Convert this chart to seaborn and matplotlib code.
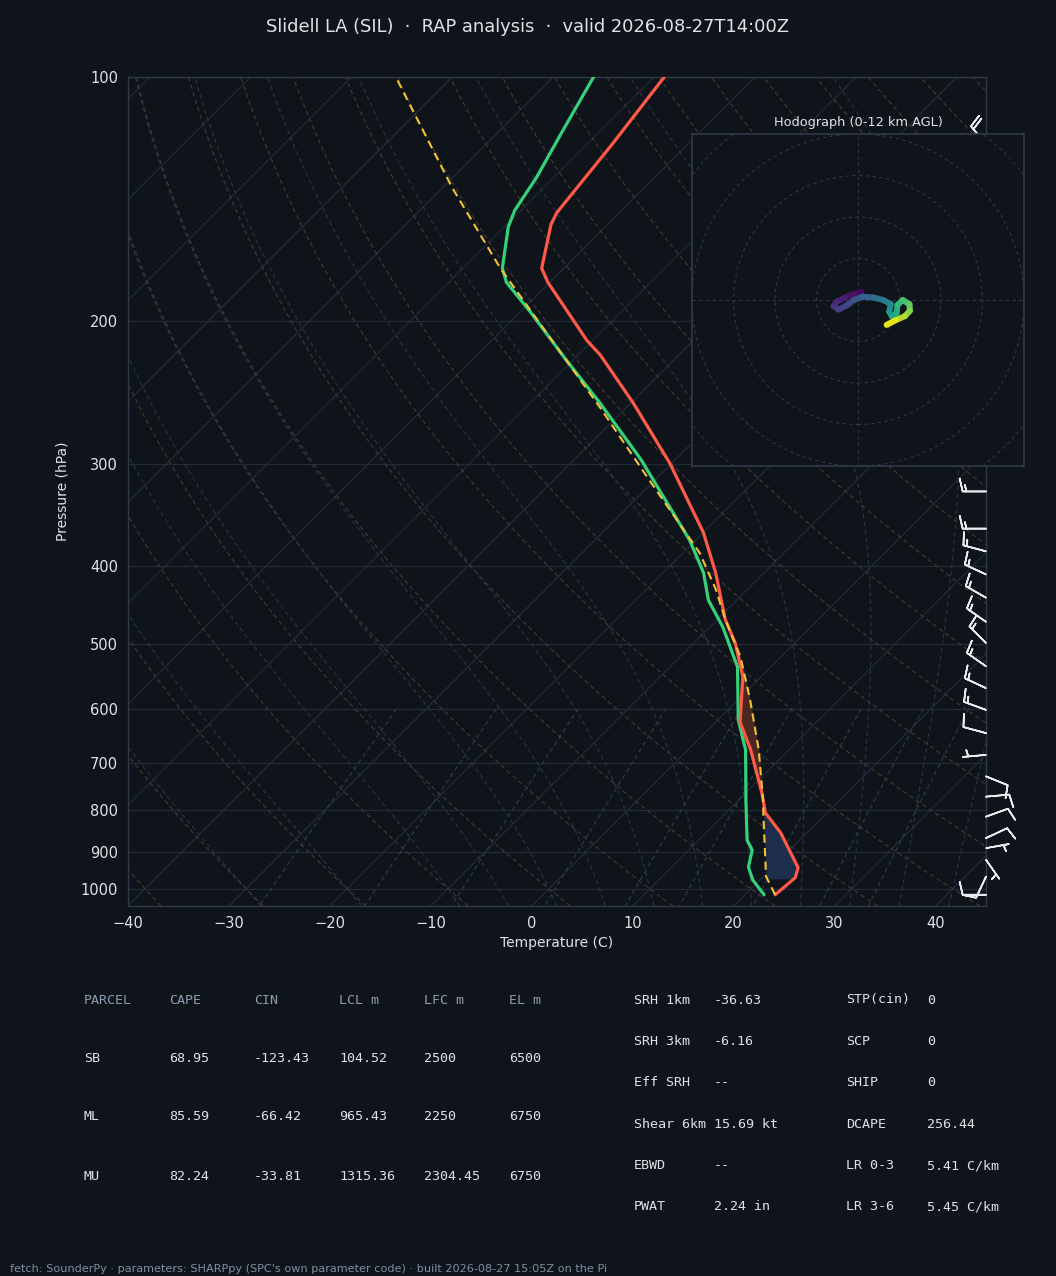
import numpy as np
import matplotlib
matplotlib.use("Agg")
import matplotlib.pyplot as plt
import matplotlib.transforms as mtransforms
from matplotlib.collections import LineCollection
from matplotlib.colors import Normalize
from matplotlib.patches import Circle
import seaborn as sns

# %% sounding values
pres_t = [1017, 969, 942, 853, 806, 762, 674, 623, 548, 498, 466, 408, 364, 299,
          252, 220, 211, 179, 172, 152, 147, 121, 100]
temp = [23.0, 23.3, 22.6, 17.4, 13.9, 11.6, 6.2, 2.4, -1.8, -5.9, -9.2, -14.8, -20.0, -30.2,
        -39.8, -47.8, -50.6, -60.2, -62.2, -65.6, -66.2, -67.5, -69.0]

pres_d = [1017, 975, 940, 896, 871, 777, 674, 619, 533, 476, 441, 408, 372, 296,
          252, 222, 195, 179, 172, 153, 146, 133, 116, 100]
dewp = [21.9, 19.3, 17.6, 16.3, 14.8, 10.7, 5.7, 2.0, -3.3, -8.7, -12.8, -16.0, -20.6, -33.4,
        -43.1, -51.0, -58.9, -64.3, -66.1, -69.6, -70.6, -71.7, -73.8, -76.0]

pres_pcl = [1017, 966, 806, 777, 674, 585, 518, 466, 428, 386, 314, 255, 172, 137, 100]
parcel = [23.0, 20.3, 13.7, 12.4, 7.0, 1.2, -4.0, -9.2, -13.1, -18.3, -30.5, -42.7, -66.3, -79.0, -95.6]

# wind barbs (direction deg, speed kt)
barb_p = [121, 324, 360, 384, 410, 438, 469, 498, 532, 566, 602, 643, 684,
          727, 770, 815, 866, 891, 921, 966, 1017]
barb_dir = [320, 270, 270, 285, 295, 300, 305, 315, 305, 295, 290, 285, 265,
            112, 85, 70, 65, 80, 145, 205, 270]
barb_spd = [20, 15, 15, 15, 15, 15, 15, 15, 15, 15, 15, 10, 5,
            10, 10, 10, 10, 5, 5, 10, 10]

# hodograph trace (u, v) and height km
hodo_u = [0.9, -1.0, -3.1, -5.1, -5.9, -4.7, -2.7, -1.0, 1.1, 3.7, 6.1, 7.9, 7.5, 8.2,
          9.3, 9.5, 10.8, 12.4, 12.5, 11.3, 9.2, 6.9]
hodo_v = [2.0, 1.5, 0.6, -0.4, -1.5, -2.3, -1.3, 0.0, 0.8, 0.6, 0.0, -1.0, -2.8, -4.0,
          -3.2, -1.2, 0.0, -1.0, -2.6, -3.9, -4.8, -6.0]
hodo_z = [0.0, 0.4, 0.8, 1.2, 1.6, 2.0, 2.4, 2.9, 3.4, 4.0, 4.7, 5.4, 6.0, 6.6,
          7.1, 7.6, 8.2, 8.8, 9.5, 10.2, 11.0, 12.0]

parcel_rows = ["SB", "ML", "MU"]
parcel_cols = ["PARCEL", "CAPE", "CIN", "LCL m", "LFC m", "EL m"]
parcel_vals = [["68.95", "-123.43", "104.52", "2500", "6500"],
               ["85.59", "-66.42", "965.43", "2250", "6750"],
               ["82.24", "-33.81", "1315.36", "2304.45", "6750"]]
idx_names1 = ["SRH 1km", "SRH 3km", "Eff SRH", "Shear 6km", "EBWD", "PWAT"]
idx_vals1 = ["-36.63", "-6.16", "--", "15.69 kt", "--", "2.24 in"]
idx_names2 = ["STP(cin)", "SCP", "SHIP", "DCAPE", "LR 0-3", "LR 3-6"]
idx_vals2 = ["0", "0", "0", "256.44", "5.41 C/km", "5.45 C/km"]

BG = "#0f141b"
FG = "#dfe3e8"
GRID = "#222b36"
SPINE = "#2f3a47"

sns.set_theme(style="dark", rc={"figure.facecolor": BG, "axes.facecolor": BG,
                                "axes.edgecolor": SPINE, "text.color": FG,
                                "xtick.color": FG, "ytick.color": FG,
                                "axes.labelcolor": FG})
plt.rcParams['font.family'] = ['DejaVu Sans']

W_PX, H_PX = 1056, 1276
fig = plt.figure(figsize=(W_PX / 100, H_PX / 100), dpi=100)

x0, x1, y0, y1 = 128, 986, 77, 906
ax = fig.add_axes([x0 / W_PX, 1 - y1 / H_PX, (x1 - x0) / W_PX, (y1 - y0) / H_PX])
P_BOT, P_TOP = 1050.0, 100.0
T_MIN, T_MAX = -40, 45
ax.set_yscale('log')
ax.set_ylim(P_BOT, P_TOP)
ax.set_xlim(T_MIN, T_MAX)

# 45 degree skew in screen space
px_per_dec = (y1 - y0) / np.log10(P_BOT / P_TOP)
px_per_deg = (x1 - x0) / (T_MAX - T_MIN)
K = px_per_dec / px_per_deg


def skew(t, p):
    return np.asarray(t, float) + K * np.log10(P_BOT / np.asarray(p, float))


# isobars / isotherms
for p in range(100, 1001, 100):
    ax.axhline(p, color=GRID, lw=0.9, zorder=1)
pp = np.array([P_BOT, P_TOP])
for t0 in range(-150, 50, 10):
    ax.plot(skew([t0, t0], pp), pp, color=GRID, lw=0.9, zorder=1)

# dry adiabats
pl = np.geomspace(P_BOT, P_TOP, 120)
for th in np.arange(-40, 200, 10):
    tt = (th + 273.15) * (pl / 1000.0) ** 0.2857 - 273.15
    ax.plot(skew(tt, pl), pl, color="#463b2d", lw=0.8, ls=(0, (4, 3)), zorder=1)


# moist adiabats
def dtdp(p, t):
    tc = t - 273.15
    es = 6.112 * np.exp(17.67 * tc / (tc + 243.5))
    rs = 0.622 * es / (p - es)
    return (287.04 * t + 2.501e6 * rs) / p / (1005.7 + 2.501e6 ** 2 * rs * 0.622 / (287.04 * t ** 2))


def integrate(t_start, p_list):
    out = [t_start]
    t = t_start
    for a, b in zip(p_list[:-1], p_list[1:]):
        h = b - a
        k1 = dtdp(a, t)
        k2 = dtdp(a + h / 2, t + h / 2 * k1)
        k3 = dtdp(a + h / 2, t + h / 2 * k2)
        k4 = dtdp(b, t + h * k3)
        t = t + h / 6 * (k1 + 2 * k2 + 2 * k3 + k4)
        out.append(t)
    return np.array(out)


p_up = np.linspace(1000, P_TOP, 120)
p_dn = np.linspace(1000, P_BOT, 6)
for t0 in np.concatenate(([-30, -20], np.arange(-10, 45, 5))):
    tu = integrate(t0 + 273.15, p_up)
    td = integrate(t0 + 273.15, p_dn)
    pm = np.concatenate((p_dn[::-1], p_up[1:]))
    tm = np.concatenate((td[::-1], tu[1:])) - 273.15
    ax.plot(skew(tm, pm), pm, color="#26364a", lw=0.8, ls=(0, (4, 3)), zorder=1)

# mixing ratio lines
pmix = np.linspace(600, P_BOT, 40)
for w in [0.0004, 0.001, 0.002, 0.004, 0.007, 0.01, 0.016, 0.024, 0.032]:
    e = w * pmix / (0.622 + w)
    le = np.log(e / 6.112)
    td = 243.5 * le / (17.67 - le)
    ax.plot(skew(td, pmix), pmix, color="#26424a", lw=0.8, ls=(0, (4, 3)), zorder=1)

# CIN / CAPE shading
LFC_P, EL_P = 800, 466
pg = np.geomspace(972, EL_P, 400)
t_env = np.interp(-np.log(pg), -np.log(pres_t), temp)
t_pcl = np.interp(-np.log(pg), -np.log(pres_pcl), parcel)
ax.fill_betweenx(pg, skew(t_pcl, pg), skew(t_env, pg), where=(t_pcl < t_env) & (pg >= LFC_P),
                 color="#1c2e4a", lw=0, interpolate=True, zorder=2)
ax.fill_betweenx(pg, skew(t_pcl, pg), skew(t_env, pg), where=(t_pcl > t_env) & (pg <= LFC_P),
                 color="#4a2a20", lw=0, interpolate=True, zorder=2)

# profiles
sns.lineplot(x=skew(dewp, pres_d), y=pres_d, sort=False, estimator=None,
             color="#35d07a", lw=2.3, ax=ax, zorder=4)
sns.lineplot(x=skew(temp, pres_t), y=pres_t, sort=False, estimator=None,
             color="#ff5a48", lw=2.3, ax=ax, zorder=4)
ax.plot(skew(parcel, pres_pcl), pres_pcl, color="#f2c237", lw=1.5, ls=(0, (4, 2.5)), zorder=5)

# wind barbs along the right edge
bd = np.deg2rad(barb_dir)
bu = -np.array(barb_spd) * np.sin(bd)
bv = -np.array(barb_spd) * np.cos(bd)
btrans = mtransforms.blended_transform_factory(ax.transAxes, ax.transData)
ax.barbs(np.ones(len(barb_p)), barb_p, bu, bv, transform=btrans, clip_on=False,
         color="#e8ebef", length=5.8, linewidth=1.2, zorder=6,
         sizes=dict(height=0.55, spacing=0.16))

ax.set_yticks(range(100, 1001, 100))
ax.set_yticklabels([str(p) for p in range(100, 1001, 100)])
ax.yaxis.set_minor_locator(matplotlib.ticker.NullLocator())
ax.set_xticks(range(-40, 41, 10))
ax.tick_params(axis='both', labelsize=10.5, length=4, width=0.8, color=FG, pad=3)
ax.set_xlabel("")
ax.set_ylabel("")
for s in ax.spines.values():
    s.set_color(SPINE)
    s.set_linewidth(1)
ax.grid(False)

fig.text(63 / W_PX, 1 - 491 / H_PX, "Pressure (hPa)", rotation=90, ha='center', va='center',
         fontsize=10, color=FG)
fig.text(557 / W_PX, 1 - 943 / H_PX, "Temperature (C)", ha='center', va='center',
         fontsize=10, color=FG)
fig.text(0.5, 1 - 27 / H_PX, "Slidell LA (SIL)  \u00b7  RAP analysis  \u00b7  valid 2026-08-27T14:00Z",
         ha='center', va='center', fontsize=12.9, color=FG)

# hodograph inset
hx0, hy0, hx1, hy1 = 692, 134, 1024, 466
hax = fig.add_axes([hx0 / W_PX, 1 - hy1 / H_PX, (hx1 - hx0) / W_PX, (hy1 - hy0) / H_PX], zorder=10)
hax.set_facecolor(BG)
hax.set_xlim(-40, 40)
hax.set_ylim(-40, 40)
for r in range(10, 70, 10):
    hax.add_patch(Circle((0, 0), r, fill=False, ec="#2c3846", lw=0.8, ls=(0, (3, 3))))
hax.axhline(0, color="#2c3846", lw=0.8, ls=(0, (3, 3)))
hax.axvline(0, color="#2c3846", lw=0.8, ls=(0, (3, 3)))
pts = np.column_stack([hodo_u, hodo_v]).reshape(-1, 1, 2)
segs = np.concatenate([pts[:-1], pts[1:]], axis=1)
zmid = 0.5 * (np.array(hodo_z[:-1]) + np.array(hodo_z[1:]))
lc = LineCollection(segs, cmap='viridis', norm=Normalize(0, 12), lw=4.3, capstyle='round')
lc.set_array(zmid)
hax.add_collection(lc)
hax.set_yticks(range(-40, 41, 10))
hax.set_xticks(np.arange(-37.5, 38, 12.5))
hax.set_xticklabels([])
hax.set_yticklabels([])
hax.tick_params(length=4, width=0.8, color=FG, direction='out')
for s in hax.spines.values():
    s.set_color(SPINE)
hax.grid(False)
hax.set_title("Hodograph (0-12 km AGL)", fontsize=9.3, color=FG, pad=6)

# parameter tables
MONO = 'DejaVu Sans Mono'
HEAD = "#8c9cb0"
col_x = [84, 169, 254, 339, 424, 509]
for cx, name in zip(col_x, parcel_cols):
    fig.text(cx / W_PX, 1 - 1000 / H_PX, name, family=MONO, fontsize=9.6, color=HEAD, va='center')
for r, (lab, vals) in enumerate(zip(parcel_rows, parcel_vals)):
    yy = 1 - (1058 + r * 59) / H_PX
    fig.text(col_x[0] / W_PX, yy, lab, family=MONO, fontsize=9.6, color=FG, va='center')
    for cx, v in zip(col_x[1:], vals):
        fig.text(cx / W_PX, yy, v, family=MONO, fontsize=9.6, color=FG, va='center')

for r in range(6):
    yy = 1 - (1000 + r * 41.4) / H_PX
    fig.text(634 / W_PX, yy, idx_names1[r], family=MONO, fontsize=9.6, color=FG, va='center')
    fig.text(714 / W_PX, yy, idx_vals1[r], family=MONO, fontsize=9.6, color=FG, va='center')
    fig.text(846 / W_PX, yy, idx_names2[r], family=MONO, fontsize=9.6, color=FG, va='center')
    fig.text(927 / W_PX, yy, idx_vals2[r], family=MONO, fontsize=9.6, color=FG, va='center')

fig.text(10 / W_PX, 1 - 1269 / H_PX,
         "fetch: SounderPy \u00b7 parameters: SHARPpy (SPC's own parameter code) \u00b7 built 2026-08-27 15:05Z on the Pi",
         fontsize=8.1, color="#7d8fa3", va='center')

fig.savefig("out.png", dpi=100, facecolor=BG)
